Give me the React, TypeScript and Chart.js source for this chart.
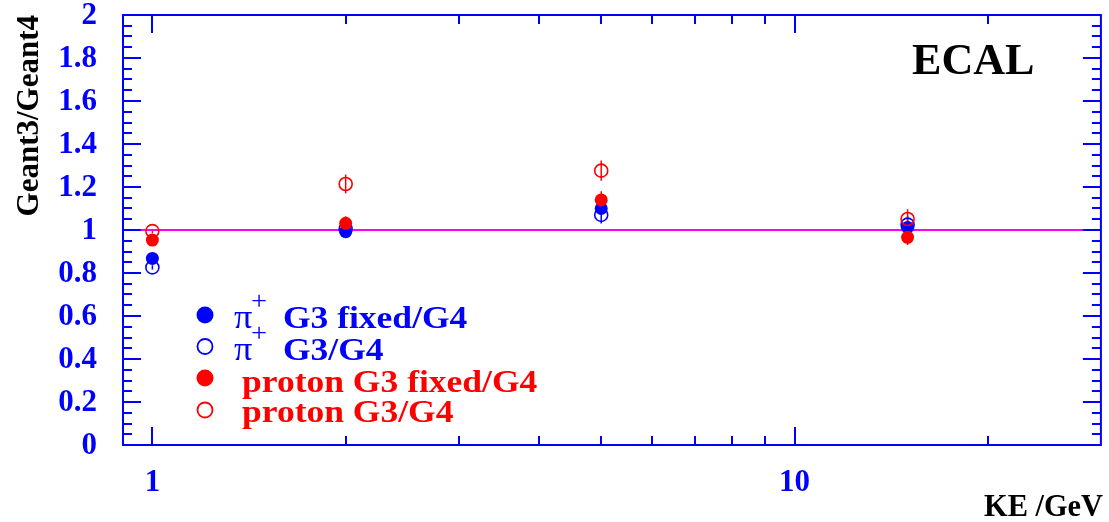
import { useEffect, useRef } from 'react';
import { Chart, registerables } from 'chart.js';

Chart.register(...registerables);

// Beam kinetic energies (GeV)
const energies = [1, 2, 5, 15];

// Geant3 / Geant4 response ratios in the ECAL with their uncertainties
const piFixed = [0.868, 0.992, 1.1, 1.012];
const piFixedErr = [0.01, 0.015, 0.02, 0.02];
const piG3 = [0.826, 1.005, 1.07, 1.025];
const piG3Err = [0.01, 0.02, 0.04, 0.04];
const protonFixed = [0.953, 1.031, 1.14, 0.966];
const protonFixedErr = [0.01, 0.033, 0.04, 0.036];
const protonG3 = [0.995, 1.214, 1.276, 1.051];
const protonG3Err = [0.01, 0.044, 0.047, 0.045];

// Axis ranges and ticks
const X_MIN = 0.9;
const X_MAX = 30;
const Y_MIN = 0;
const Y_MAX = 2;
const REF_RATIO = 1;
const xMajorTicks = [1, 10];
const xTickLabels = ['1', '10'];
const xMinorTicks = [2, 3, 4, 5, 6, 7, 8, 9, 20];
const yMajorTicks = [0, 0.2, 0.4, 0.6, 0.8, 1, 1.2, 1.4, 1.6, 1.8, 2];
const yTickLabels = ['0', '0.2', '0.4', '0.6', '0.8', '1', '1.2', '1.4', '1.6', '1.8', '2'];
const Y_MINOR_STEP = 0.05;

const BLUE = '#0000ff';
const RED = '#ff0000';
const MAGENTA = '#ff00ff';
const SERIF = '"Liberation Serif", "Times New Roman", serif';

type Series = {
  symbol: string;
  label: string;
  values: number[];
  errors: number[];
  color: string;
  filled: boolean;
  order: number;
};

const series: Series[] = [
  { symbol: 'π', label: ' G3 fixed/G4', values: piFixed, errors: piFixedErr, color: BLUE, filled: true, order: 3 },
  { symbol: 'π', label: ' G3/G4', values: piG3, errors: piG3Err, color: BLUE, filled: false, order: 4 },
  { symbol: '', label: 'proton G3 fixed/G4', values: protonFixed, errors: protonFixedErr, color: RED, filled: true, order: 2 },
  { symbol: '', label: 'proton G3/G4', values: protonG3, errors: protonG3Err, color: RED, filled: false, order: 1 },
];

function drawText(
  ctx: CanvasRenderingContext2D,
  str: string,
  x: number,
  y: number,
  font: string,
  color: string,
  align: CanvasTextAlign,
  baseline: CanvasTextBaseline,
  sx = 1,
) {
  ctx.save();
  ctx.translate(x, y);
  ctx.scale(sx, 1);
  ctx.font = font;
  ctx.fillStyle = color;
  ctx.textAlign = align;
  ctx.textBaseline = baseline;
  ctx.fillText(str, 0, 0);
  ctx.restore();
}

// Error bars under the markers
const errorBars = {
  id: 'errorBars',
  beforeDatasetsDraw(chart: any) {
    const { ctx, scales } = chart;
    const xs = scales.x;
    const ys = scales.y;
    ctx.save();
    ctx.lineWidth = 1.5;
    series.forEach((s) => {
      ctx.strokeStyle = s.color;
      energies.forEach((e, i) => {
        const px = xs.getPixelForValue(e);
        ctx.beginPath();
        ctx.moveTo(px, ys.getPixelForValue(s.values[i] - s.errors[i]));
        ctx.lineTo(px, ys.getPixelForValue(s.values[i] + s.errors[i]));
        ctx.stroke();
      });
    });
    ctx.restore();
  },
};

// Frame with inward ticks, labels, titles and legend
const frame = {
  id: 'frame',
  afterDraw(chart: any) {
    const { ctx, chartArea, scales } = chart;
    const xs = scales.x;
    const ys = scales.y;
    const { left, right, top, bottom } = chartArea;
    const MAJOR = 18;
    const MINOR = 9;

    ctx.save();
    ctx.strokeStyle = BLUE;
    ctx.lineWidth = 2;
    ctx.strokeRect(left, top, right - left, bottom - top);

    ctx.beginPath();
    // y ticks on both sides
    for (let k = 0; Y_MIN + k * Y_MINOR_STEP <= Y_MAX + 1e-9; k++) {
      const v = Y_MIN + k * Y_MINOR_STEP;
      const len = k % 4 === 0 ? MAJOR : MINOR;
      const py = Math.round(ys.getPixelForValue(v));
      ctx.moveTo(left, py);
      ctx.lineTo(left + len, py);
      ctx.moveTo(right, py);
      ctx.lineTo(right - len, py);
    }
    // x ticks on both sides
    const xTicks = [
      ...xMajorTicks.map((v) => ({ v, len: MAJOR })),
      ...xMinorTicks.map((v) => ({ v, len: MINOR })),
    ];
    xTicks.forEach(({ v, len }) => {
      const px = Math.round(xs.getPixelForValue(v));
      ctx.moveTo(px, bottom);
      ctx.lineTo(px, bottom - len);
      ctx.moveTo(px, top);
      ctx.lineTo(px, top + len);
    });
    ctx.stroke();

    const tickFont = `bold 31px ${SERIF}`;
    yMajorTicks.forEach((v, i) => {
      drawText(ctx, yTickLabels[i], left - 26, ys.getPixelForValue(v) + 1, tickFont, BLUE, 'right', 'middle');
    });
    xMajorTicks.forEach((v, i) => {
      drawText(ctx, xTickLabels[i], xs.getPixelForValue(v), bottom + 38, tickFont, BLUE, 'center', 'middle');
    });

    // axis titles
    drawText(ctx, 'KE /GeV', 1103, 516, `bold 31px ${SERIF}`, '#000', 'right', 'alphabetic', 0.98);
    ctx.save();
    ctx.translate(38, top);
    ctx.rotate(-Math.PI / 2);
    drawText(ctx, 'Geant3/Geant4', 0, 0, `bold 31px ${SERIF}`, '#000', 'right', 'alphabetic');
    ctx.restore();

    // detector tag
    drawText(ctx, 'ECAL', 912, 74, `bold 45px ${SERIF}`, '#000', 'left', 'alphabetic', 0.98);

    // legend
    const markerX = 205;
    const markerY = [315, 346.5, 378, 410];
    const baseY = [328, 360, 392, 422];
    const legFont = `bold 32px ${SERIF}`;
    series.forEach((s, i) => {
      ctx.beginPath();
      if (s.filled) {
        ctx.fillStyle = s.color;
        ctx.arc(markerX, markerY[i], 8.5, 0, Math.PI * 2);
        ctx.fill();
      } else {
        ctx.strokeStyle = s.color;
        ctx.lineWidth = 1.8;
        ctx.arc(markerX, markerY[i], 7.5, 0, Math.PI * 2);
        ctx.stroke();
      }
      if (s.symbol) {
        drawText(ctx, s.symbol, 234, baseY[i], `33px ${SERIF}`, s.color, 'left', 'alphabetic', 1.1);
        drawText(ctx, '+', 251, baseY[i] - 19, `26px ${SERIF}`, s.color, 'left', 'alphabetic', 1.1);
        drawText(ctx, s.label, 274, baseY[i], legFont, s.color, 'left', 'alphabetic', 1.11);
      } else {
        drawText(ctx, s.label, 242, baseY[i], legFont, s.color, 'left', 'alphabetic', 1.11);
      }
    });
    ctx.restore();
  },
};

export default function App() {
  const canvasRef = useRef<HTMLCanvasElement | null>(null);

  useEffect(() => {
    const canvas = canvasRef.current;
    if (!canvas) return;

    const pointSets = series.map((s) => ({
      type: 'scatter' as const,
      label: s.symbol + s.label,
      data: energies.map((e, i) => ({ x: e, y: s.values[i] })),
      pointStyle: 'circle',
      pointRadius: 6.5,
      pointHoverRadius: 6.5,
      pointBorderWidth: s.filled ? 0 : 1.6,
      pointBackgroundColor: s.filled ? s.color : 'rgba(0,0,0,0)',
      pointBorderColor: s.color,
      showLine: false,
      order: s.order,
    }));

    const chart = new Chart(canvas, {
      type: 'scatter',
      data: {
        datasets: [
          {
            type: 'line' as const,
            label: 'reference',
            data: [
              { x: X_MIN, y: REF_RATIO },
              { x: X_MAX, y: REF_RATIO },
            ],
            borderColor: MAGENTA,
            borderWidth: 2,
            pointRadius: 0,
            showLine: true,
            order: 10,
          },
          ...pointSets,
        ] as any,
      },
      options: {
        animation: false,
        responsive: false,
        events: [],
        layout: { padding: { left: 123, right: 5, top: 15, bottom: 77 } },
        plugins: { legend: { display: false }, tooltip: { enabled: false } },
        scales: {
          x: { type: 'logarithmic', min: X_MIN, max: X_MAX, display: false },
          y: { type: 'linear', min: Y_MIN, max: Y_MAX, display: false },
        },
      },
      plugins: [errorBars, frame],
    });

    return () => chart.destroy();
  }, []);

  return (
    <div style={{ position: 'fixed', left: 0, top: 0, width: 1109, height: 522, background: '#fff' }}>
      <canvas ref={canvasRef} width={1109} height={522} style={{ width: 1109, height: 522, display: 'block' }} />
    </div>
  );
}
